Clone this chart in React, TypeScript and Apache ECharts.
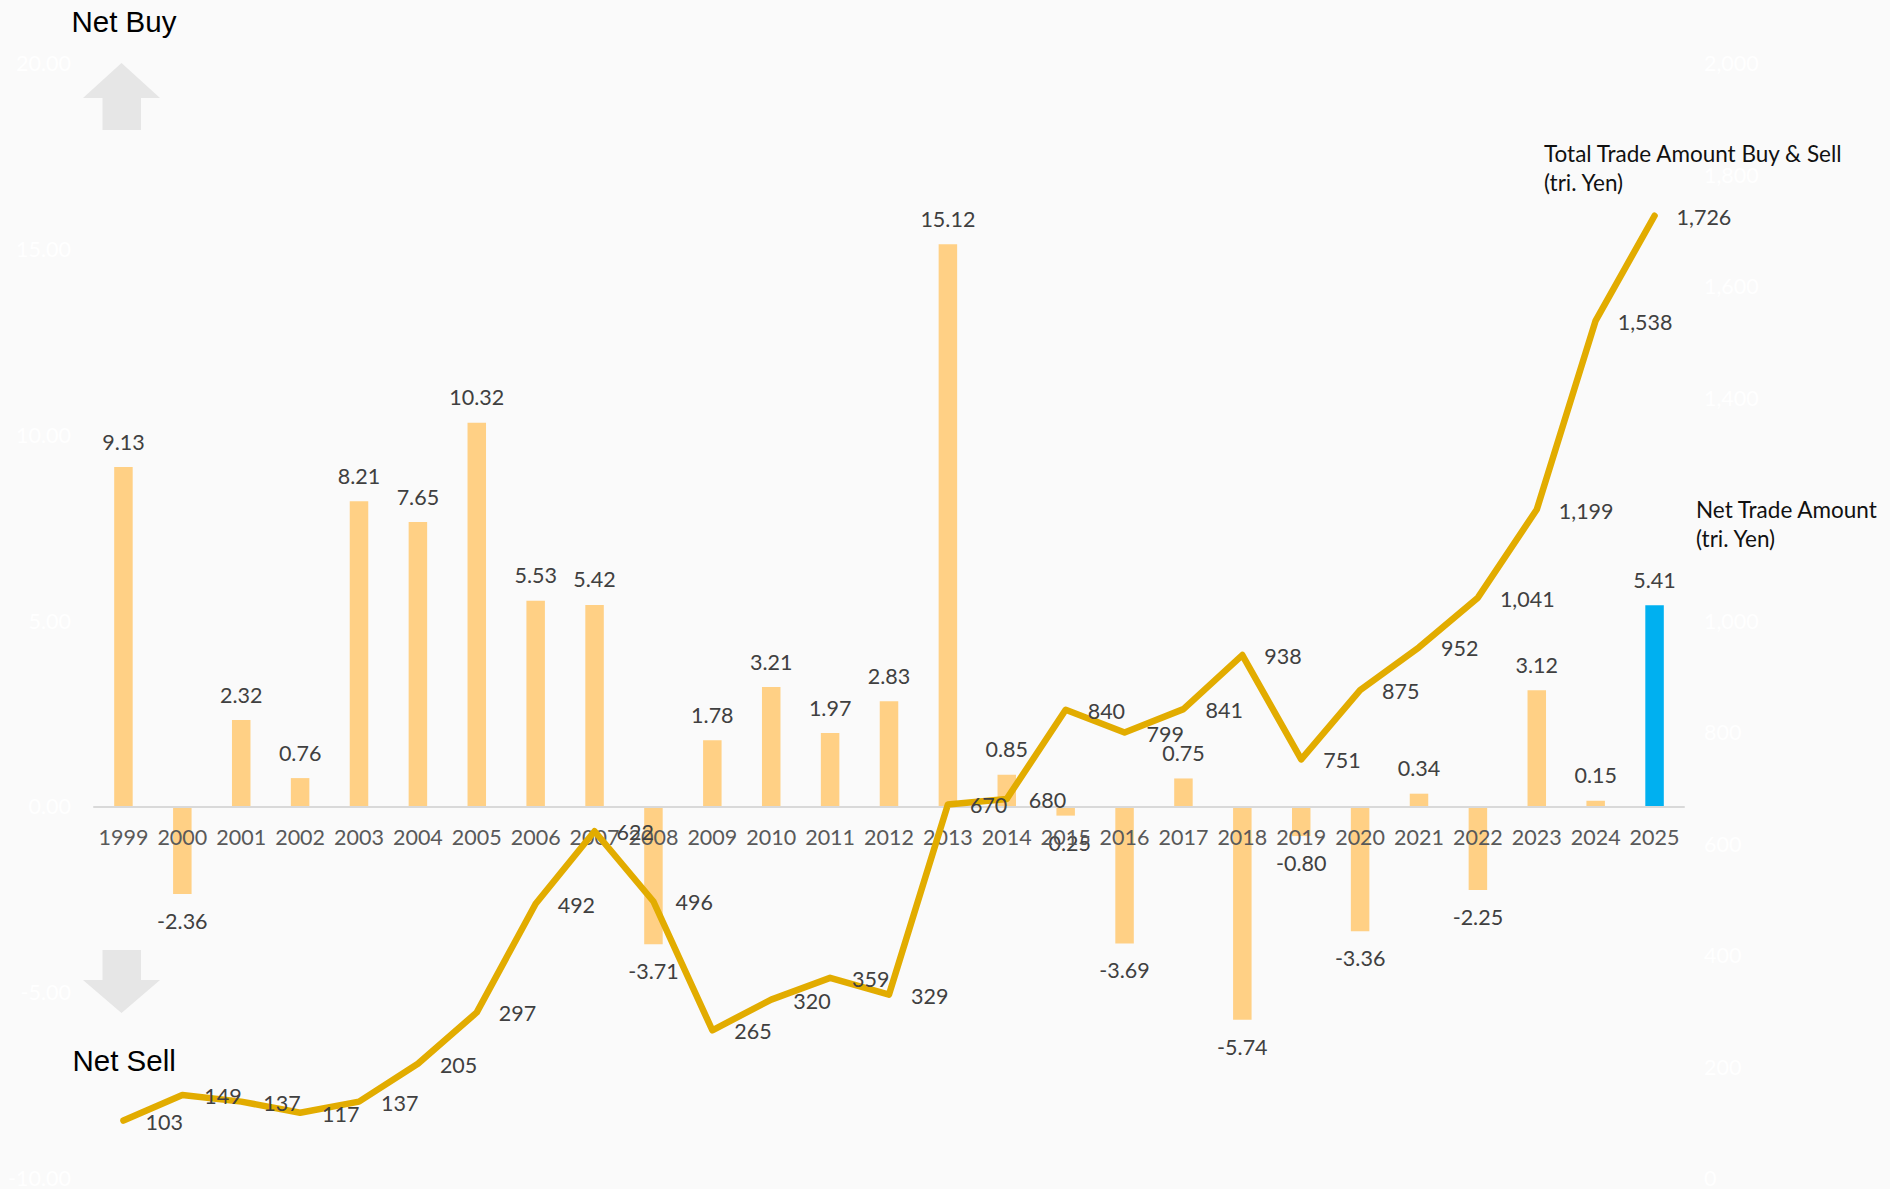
import React, { useEffect, useRef } from "react";
import * as echarts from "echarts";

const years = ["1999","2000","2001","2002","2003","2004","2005","2006","2007","2008","2009","2010","2011","2012","2013","2014","2015","2016","2017","2018","2019","2020","2021","2022","2023","2024","2025"];
const netTrade = [9.13,-2.36,2.32,0.76,8.21,7.65,10.32,5.53,5.42,-3.71,1.78,3.21,1.97,2.83,15.12,0.85,-0.25,-3.69,0.75,-5.74,-0.8,-3.36,0.34,-2.25,3.12,0.15,5.41];
const totalTrade = [103,149,137,117,137,205,297,492,622,496,265,320,359,329,670,680,840,799,841,938,751,875,952,1041,1199,1538,1726];

const FONT = "Lato";
const BG = "#FAFAFA";
const NOTE_FONT = "22.5px Lato";
const HEAD_FONT = '29.5px "Liberation Sans"';

export default function App() {
  const ref = useRef<HTMLDivElement>(null);
  useEffect(() => {
    document.body.style.margin = "0";
    const chart = echarts.init(ref.current!, null, { renderer: "svg" });
    const lastIdx = years.length - 1;
    chart.setOption({
      animation: false,
      backgroundColor: BG,
      textStyle: { fontFamily: FONT },
      grid: { left: 94, right: 206, top: 63, bottom: 11, containLabel: false, outerBoundsMode: "none" },
      xAxis: {
        type: "category",
        data: years,
        z: 3,
        axisLine: { onZero: true, onZeroAxisIndex: 0, lineStyle: { color: "#D9D9D9", width: 2 } },
        axisTick: { show: false },
        axisLabel: { color: "#595959", fontSize: 21.5, fontFamily: FONT, margin: -352, interval: 0 },
      },
      yAxis: [
        {
          type: "value", min: -10, max: 20, interval: 5,
          splitLine: { show: false }, axisLine: { show: false }, axisTick: { show: false },
          axisLabel: { color: "#FFFFFF", fontSize: 21.5, fontFamily: FONT, margin: 23, formatter: (v: number) => v.toFixed(2), showMinLabel: true, showMaxLabel: true },
        },
        {
          type: "value", min: 0, max: 2000, interval: 200,
          splitLine: { show: false }, axisLine: { show: false }, axisTick: { show: false },
          axisLabel: { color: "#FFFFFF", fontSize: 21.5, fontFamily: FONT, margin: 20, formatter: (v: number) => v.toLocaleString("en-US"), showMinLabel: true, showMaxLabel: true },
        },
      ],
      series: [
        {
          type: "bar",
          yAxisIndex: 0,
          barWidth: 18.5,
          z: 2,
          data: netTrade.map((v, i) => ({
            value: v,
            itemStyle: { color: i === lastIdx ? "#00B0F0" : "#FFD085" },
            label: { position: v < 0 ? "bottom" : "top", distance: v < 0 ? 16 : 14.5 },
          })),
          label: {
            show: true, color: "#404040", fontSize: 21.5, fontFamily: FONT,
            formatter: (p: any) => Number(p.value).toFixed(2),
          },
        },
        {
          type: "line",
          yAxisIndex: 1,
          z: 4,
          data: totalTrade,
          symbol: "circle",
          symbolSize: 1,
          showAllSymbol: true,
          itemStyle: { color: "#E2AC00" },
          lineStyle: { color: "#E2AC00", width: 6.5, cap: "round", join: "round" },
          label: {
            show: true, position: "right", distance: 21.5, offset: [0, 1], color: "#404040", fontSize: 21.5, fontFamily: FONT,
            formatter: (p: any) => Number(p.value).toLocaleString("en-US"),
          },
        },
      ],
      graphic: [
        { type: "polygon", shape: { points: [[121.5,63],[160,98],[141,98],[141,130],[102.5,130],[102.5,98],[83,98]] }, style: { fill: "#E6E6E6" } },
        { type: "polygon", shape: { points: [[102.5,950],[141,950],[141,980],[160,980],[121.5,1013],[83,980],[102.5,980]] }, style: { fill: "#E6E6E6" } },
        { type: "text", z: 10, x: 71.5, y: 21, style: { text: "Net Buy", fill: "#000", font: HEAD_FONT, textVerticalAlign: "middle" } },
        { type: "text", z: 10, x: 72.5, y: 1060, style: { text: "Net Sell", fill: "#000", font: HEAD_FONT, textVerticalAlign: "middle" } },
        { type: "text", z: 10, x: 1544, y: 153, style: { text: "Total Trade Amount Buy & Sell", fill: "#111", font: NOTE_FONT, textVerticalAlign: "middle" } },
        { type: "text", z: 10, x: 1544, y: 182, style: { text: "(tri. Yen)", fill: "#111", font: NOTE_FONT, textVerticalAlign: "middle" } },
        { type: "text", z: 10, x: 1696, y: 509, style: { text: "Net Trade Amount", fill: "#111", font: NOTE_FONT, textVerticalAlign: "middle" } },
        { type: "text", z: 10, x: 1696, y: 538, style: { text: "(tri. Yen)", fill: "#111", font: NOTE_FONT, textVerticalAlign: "middle" } },
      ],
    });
    return () => chart.dispose();
  }, []);
  return <div ref={ref} style={{ position: "fixed", left: 0, top: 0, width: 1890, height: 1189 }} />;
}
